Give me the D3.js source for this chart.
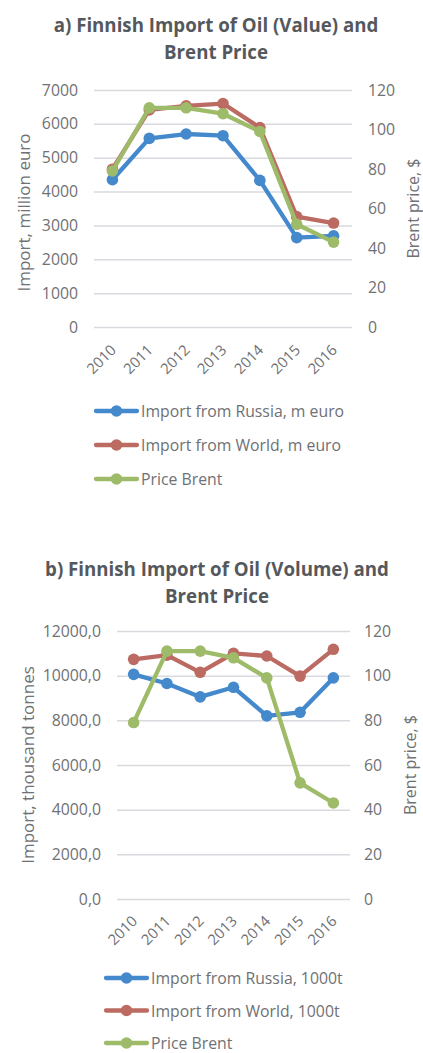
<!DOCTYPE html>
<html>
<head>
<meta charset="utf-8">
<script src="https://cdn.jsdelivr.net/npm/d3@7/dist/d3.min.js"></script>
<style>
  html, body { margin: 0; padding: 0; background: #ffffff; }
  svg { display: block; }
  text { font-family: "Open Sans", "Noto Sans", sans-serif; }
</style>
</head>
<body>
<svg id="chart" width="423" height="1053"></svg>
<script>
// ---------- DATA ----------
const years = ["2010", "2011", "2012", "2013", "2014", "2015", "2016"];

// Chart a) values, million euro
const valueRussia = [4350, 5570, 5700, 5650, 4330, 2640, 2690];
const valueWorld  = [4660, 6410, 6530, 6600, 5890, 3260, 3070];

// Chart b) volumes, thousand tonnes
const volumeRussia = [10060, 9650, 9050, 9480, 8200, 8360, 9900];
const volumeWorld  = [10730, 10920, 10150, 11000, 10880, 9980, 11180];

// Brent price, $ (secondary axis in both charts)
const brentPrice = [79, 111, 111, 108, 99, 52, 43];

const leftTicksA  = [0, 1000, 2000, 3000, 4000, 5000, 6000, 7000];
const leftTicksB  = [0, 2000, 4000, 6000, 8000, 10000, 12000];
const rightTicks  = [0, 20, 40, 60, 80, 100, 120];

const seriesNamesA = ["Import from Russia, m euro", "Import from World, m euro", "Price Brent"];
const seriesNamesB = ["Import from Russia, 1000t", "Import from World, 1000t", "Price Brent"];

// ---------- STYLE ----------
const COLORS = ["#4589CD", "#BC6B62", "#9EBB6A"];
const TEXT = "#6F7174";
const TITLE = "#55585C";
const GRID = "#D9DADF";

const svg = d3.select("#chart");

function drawChart(cfg) {
  const g = svg.append("g");

  // Title
  const title = g.append("text")
    .attr("x", cfg.titleX)
    .attr("text-anchor", "middle")
    .attr("font-size", 18.7)
    .attr("font-weight", "bold")
    .attr("fill", TITLE);
  cfg.titleLines.forEach((t, i) => {
    title.append("tspan").attr("x", cfg.titleX).attr("y", cfg.titleY + i * 27).text(t);
  });

  const x = d3.scalePoint().domain(years).range([cfg.left, cfg.right]).padding(0.5);
  const yL = d3.scaleLinear().domain(cfg.leftDomain).range([cfg.bottom, cfg.top]);
  const yR = d3.scaleLinear().domain([0, 120]).range([cfg.bottom, cfg.top]);

  // Gridlines + left axis
  const axL = g.append("g")
    .attr("transform", `translate(${cfg.left},0)`)
    .call(d3.axisLeft(yL).tickValues(cfg.leftTicks).tickSize(-(cfg.right - cfg.left))
      .tickPadding(cfg.leftPad).tickFormat(cfg.leftFormat));
  axL.select(".domain").remove();
  axL.selectAll(".tick line").attr("stroke", GRID).attr("stroke-width", 1.5);
  axL.selectAll(".tick text").attr("fill", TEXT).attr("font-size", 15.8).attr("font-family", "Open Sans");

  // Right axis
  const axR = g.append("g")
    .attr("transform", `translate(${cfg.right},0)`)
    .call(d3.axisRight(yR).tickValues(rightTicks).tickSize(0).tickPadding(cfg.rightPad));
  axR.select(".domain").remove();
  axR.selectAll(".tick text").attr("fill", TEXT).attr("font-size", 15.8).attr("font-family", "Open Sans");

  // X axis labels
  const axX = g.append("g")
    .attr("transform", `translate(0,${cfg.bottom})`)
    .call(d3.axisBottom(x).tickSize(0).tickPadding(0));
  axX.select(".domain").remove();
  axX.selectAll(".tick text")
    .attr("fill", TEXT)
    .attr("font-size", 14.8)
    .attr("font-family", "Open Sans")
    .attr("text-anchor", "end")
    .attr("dy", null)
    .attr("y", 0)
    .attr("transform", `translate(${cfg.xLabelDx},${cfg.xLabelDy}) rotate(-45)`);

  // Axis titles
  g.append("text")
    .attr("transform", `translate(${cfg.leftTitleX},${(cfg.top + cfg.bottom) / 2 + cfg.leftTitleShift}) rotate(-90)`)
    .attr("text-anchor", "middle")
    .attr("dominant-baseline", "central")
    .attr("font-size", cfg.leftTitleSize)
    .attr("fill", TEXT)
    .text(cfg.leftTitle);
  g.append("text")
    .attr("transform", `translate(${cfg.rightTitleX},${(cfg.top + cfg.bottom) / 2}) rotate(-90)`)
    .attr("text-anchor", "middle")
    .attr("dominant-baseline", "central")
    .attr("font-size", 16)
    .attr("fill", TEXT)
    .text("Brent price, $");

  // Series
  const series = [
    { vals: cfg.russia, y: yL, color: COLORS[0] },
    { vals: cfg.world, y: yL, color: COLORS[1] },
    { vals: brentPrice, y: yR, color: COLORS[2] }
  ];
  series.forEach(s => {
    const line = d3.line().x((d, i) => x(years[i])).y(d => s.y(d));
    g.append("path")
      .attr("d", line(s.vals))
      .attr("fill", "none")
      .attr("stroke", s.color)
      .attr("stroke-width", 4.3)
      .attr("stroke-linejoin", "round");
    g.selectAll(null).data(s.vals).enter().append("circle")
      .attr("cx", (d, i) => x(years[i]))
      .attr("cy", d => s.y(d))
      .attr("r", 5.8)
      .attr("fill", s.color);
  });

  // Legend
  const leg = g.append("g");
  cfg.names.forEach((name, i) => {
    const yy = cfg.legendY + i * cfg.legendStep;
    leg.append("line")
      .attr("x1", cfg.legendX).attr("x2", cfg.legendX + 41)
      .attr("y1", yy).attr("y2", yy)
      .attr("stroke", COLORS[i]).attr("stroke-width", 4.3).attr("stroke-linecap", "round");
    leg.append("circle")
      .attr("cx", cfg.legendX + 20.5).attr("cy", yy).attr("r", 5.8).attr("fill", COLORS[i]);
    leg.append("text")
      .attr("x", cfg.legendX + 45).attr("y", yy)
      .attr("dominant-baseline", "central")
      .attr("font-size", 15.8)
      .attr("fill", TEXT)
      .text(name);
  });
}

drawChart({
  titleLines: ["a) Finnish Import of Oil (Value) and", "Brent Price"],
  titleX: 216, titleY: 32,
  left: 94, right: 352, top: 90, bottom: 327,
  leftDomain: [0, 7000], leftTicks: leftTicksA, leftFormat: d3.format("d"),
  leftPad: 16, rightPad: 16,
  xLabelDx: 4, xLabelDy: 24,
  leftTitle: "Import, million euro", leftTitleX: 23, leftTitleShift: 4, leftTitleSize: 17,
  rightTitleX: 413,
  russia: valueRussia, world: valueWorld,
  names: seriesNamesA, legendX: 96, legendY: 411, legendStep: 34
});

drawChart({
  titleLines: ["b) Finnish Import of Oil (Volume) and", "Brent Price"],
  titleX: 217, titleY: 576,
  left: 117, right: 350, top: 631, bottom: 899,
  leftDomain: [0, 12000], leftTicks: leftTicksB, leftFormat: d => d3.format(".1f")(d).replace(".", ","),
  leftPad: 16, rightPad: 14,
  xLabelDx: 4, xLabelDy: 23,
  leftTitle: "Import, thousand tonnes", leftTitleX: 27, leftTitleShift: 0, leftTitleSize: 17,
  rightTitleX: 410,
  russia: volumeRussia, world: volumeWorld,
  names: seriesNamesB, legendX: 106, legendY: 978, legendStep: 32.5
});
</script>
</body>
</html>
